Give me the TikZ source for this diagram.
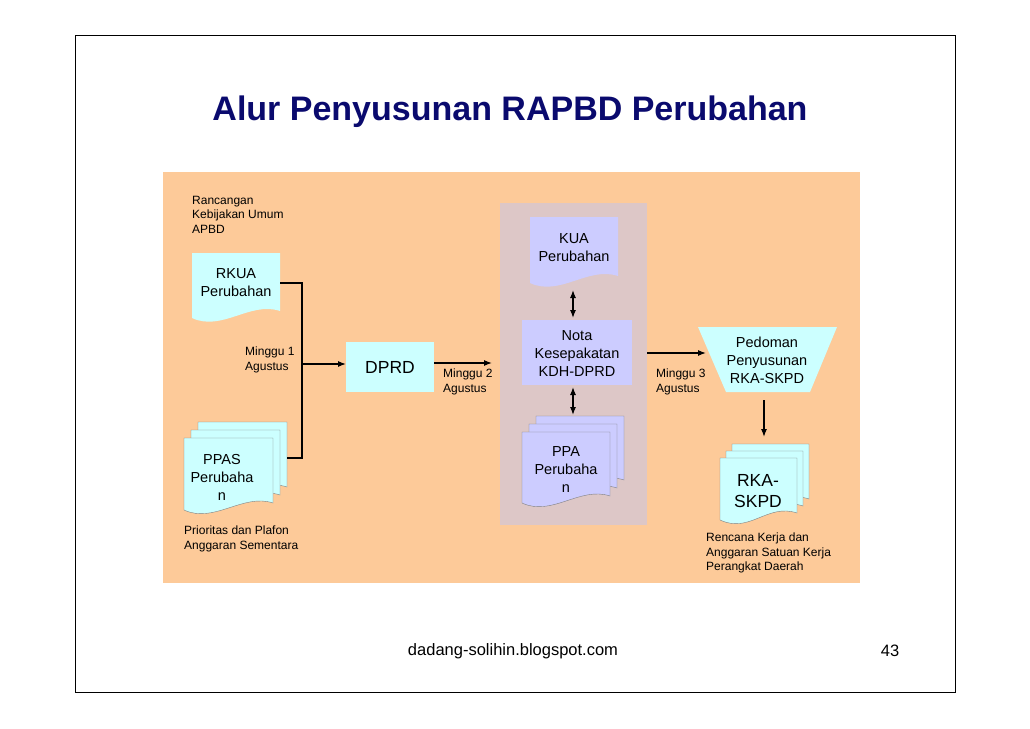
\documentclass[tikz,border=0pt]{standalone}
\usepackage{fontspec}
\setmainfont{Liberation Sans}
\usepackage{tikz}
\usetikzlibrary{arrows.meta}
\definecolor{peach}{HTML}{FDCA99}
\definecolor{panel}{HTML}{DDC7C7}
\definecolor{aqua}{HTML}{CCFFFF}
\definecolor{lilac}{HTML}{CCCCFF}
\definecolor{navy}{HTML}{0A0A6E}
% document shape with wavy lower edge: x1,y1,x2,y2,style
\newcommand{\docshape}[5]{%
  \path[#5] (#1,#2) -- (#3,#2) -- (#3,#4-7)
    .. controls +(-30,-10) and +(30,14) .. (#1,#4) -- cycle;}
\begin{document}
\begin{tikzpicture}[x=1pt,y=-1pt]
  \tikzstyle{lbl}=[font=\fontsize{12}{14.5}\selectfont,align=left,anchor=north west,inner sep=0pt]
  \tikzstyle{txt}=[font=\fontsize{14.5}{18}\selectfont,align=center,inner sep=0pt]
  \tikzstyle{big}=[font=\fontsize{17.5}{21}\selectfont,align=center,inner sep=0pt]
  \tikzstyle{arr}=[-{Latex[length=8pt,width=6pt]},line width=1.2pt]
  \tikzstyle{dbl}=[{Latex[length=8pt,width=6pt]}-{Latex[length=8pt,width=6pt]},line width=1.2pt]
  \useasboundingbox (0,0) rectangle (1030,728);
  \draw[thin] (75,35) rectangle (955,692);
  \node[font=\fontsize{34}{40}\selectfont\bfseries,text=navy] (title) at (510,112) {Alur Penyusunan RAPBD Perubahan};
  \fill[peach] (163,172) rectangle (860,583);
  \fill[panel] (500,203) rectangle (647,525);
  % documents
  \docshape{192}{253}{280}{318}{fill=aqua}
  \foreach \d in {2,1,0}
    {\docshape{184+7*\d}{438-8*\d}{273+7*\d}{510-8*\d}{fill=aqua,draw=gray,thin}}
  \docshape{530}{217}{618}{283}{fill=lilac}
  \foreach \d in {2,1,0}
    {\docshape{522+7*\d}{432-8*\d}{610+7*\d}{503-8*\d}{fill=lilac,draw=gray,thin}}
  \foreach \d in {2,1,0}
    {\docshape{720+6*\d}{458-7*\d}{797+6*\d}{520-7*\d}{fill=aqua,draw=gray,thin}}
  \fill[aqua] (346,342) rectangle (434,392);
  \fill[lilac] (522,320) rectangle (632,385);
  \fill[aqua] (698,327) -- (837,327) -- (810,392) -- (726,392) -- cycle;
  % texts
  \node[txt] (rkua) at (236,283) {RKUA\\Perubahan};
  \node[txt] (ppas) at (222,477) {PPAS\\Perubaha\\n};
  \node[big] (dprd) at (390,367) {DPRD};
  \node[txt] (kua) at (574,248) {KUA\\Perubahan};
  \node[txt] (nota) at (577,354) {Nota\\Kesepakatan\\KDH-DPRD};
  \node[txt] (ppa) at (566,470) {PPA\\Perubaha\\n};
  \node[txt] (pedoman) at (767,360) {Pedoman\\Penyusunan\\RKA-SKPD};
  \node[big] (rka) at (758,491) {RKA-\\SKPD};
  \node[lbl] (rancangan) at (192,196) {Rancangan\\Kebijakan Umum\\APBD};
  \node[lbl] (m1) at (245,347) {Minggu 1\\Agustus};
  \node[lbl] (m2) at (443,369) {Minggu 2\\Agustus};
  \node[lbl] (m3) at (656,369) {Minggu 3\\Agustus};
  \node[lbl] (prioritas) at (184,526) {Prioritas dan Plafon\\Anggaran Sementara};
  \node[lbl] (rencana) at (706,533) {Rencana Kerja dan\\Anggaran Satuan Kerja\\Perangkat Daerah};
  \node[font=\fontsize{16.5}{20}\selectfont] (footer) at (513,651) {dadang-solihin.blogspot.com};
  \node[font=\fontsize{16.5}{20}\selectfont] (page) at (890,651) {43};
  % connectors
  \coordinate (r) at (280,283);
  \coordinate (p) at (287,458);
  \coordinate (j) at (302,364);
  \coordinate (dw) at (346,364);
  \draw[line width=1.2pt] (r) -- (302,283) -- (302,458) -- (p);
  \draw[arr] (j) -- (dw);
  \draw[arr] (434,363) coordinate (d) -- (492,363) coordinate (pe);
  \draw[arr] (647,353) coordinate (n) -- (706,353) coordinate (pd);
  \draw[arr] (764,400) coordinate (pb) -- (764,437) coordinate (rt);
  \draw[dbl] (573,290) coordinate (kb) -- (573,318) coordinate (nt);
  \draw[dbl] (573,387) coordinate (nb) -- (573,415) coordinate (pt);
\end{tikzpicture}
\end{document}
